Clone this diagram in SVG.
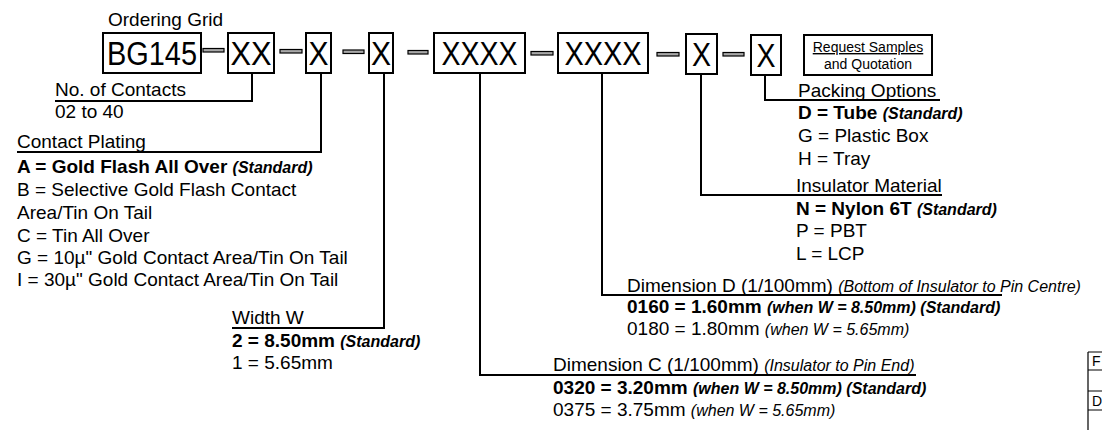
<svg xmlns="http://www.w3.org/2000/svg" width="1102" height="430" viewBox="0 0 1102 430">
<style>
text{font-family:"Liberation Sans",Arial,sans-serif;fill:#000}
.t{font-size:19px}
.b{font-size:19px;font-weight:bold}
.bi{font-size:16px;font-weight:bold;font-style:italic}
.i{font-size:16px;font-style:italic}
.big{font-size:34px;text-anchor:middle}
.box{fill:#fff;stroke:#000;stroke-width:2}
.dash{fill:#a8a8a8;stroke:#000;stroke-width:1.2}
.ln{fill:none;stroke:#000;stroke-width:2}
.rq{font-size:14px;text-anchor:middle}
</style>
<rect width="1102" height="430" fill="#fff"/>
<text class="t" x="108" y="26">Ordering Grid</text>

<g id="boxes">
<g id="n-bg145"><rect class="box" x="103" y="33" width="98" height="40"/><text class="big" x="152" y="65" textLength="90" lengthAdjust="spacingAndGlyphs">BG145</text></g>
<g id="n-xx"><rect class="box" x="228" y="33" width="46" height="40"/><text class="big" x="251" y="65" textLength="41" lengthAdjust="spacingAndGlyphs">XX</text></g>
<g id="n-x1"><rect class="box" x="306" y="33" width="25" height="40"/><text class="big" x="318.5" y="65" textLength="20" lengthAdjust="spacingAndGlyphs">X</text></g>
<g id="n-x2"><rect class="box" x="369" y="33" width="24" height="40"/><text class="big" x="381" y="65" textLength="20" lengthAdjust="spacingAndGlyphs">X</text></g>
<g id="n-xxxx1"><rect class="box" x="434" y="33" width="91" height="40"/><text class="big" x="479.5" y="65" textLength="76" lengthAdjust="spacingAndGlyphs">XXXX</text></g>
<g id="n-xxxx2"><rect class="box" x="558" y="33" width="90" height="40"/><text class="big" x="603" y="65" textLength="77" lengthAdjust="spacingAndGlyphs">XXXX</text></g>
<g id="n-x3"><rect class="box" x="686" y="34" width="31" height="40"/><text class="big" x="701.5" y="66" textLength="19" lengthAdjust="spacingAndGlyphs">X</text></g>
<g id="n-x4"><rect class="box" x="751" y="35" width="30" height="40"/><text class="big" x="766" y="67" textLength="19" lengthAdjust="spacingAndGlyphs">X</text></g>
</g>

<g id="dashes">
<rect class="dash" x="203" y="48.5" width="21" height="3.5"/>
<rect class="dash" x="280" y="49.5" width="22" height="3.5"/>
<rect class="dash" x="343" y="50" width="21" height="3.5"/>
<rect class="dash" x="408" y="50.5" width="20" height="3.5"/>
<rect class="dash" x="531" y="51.5" width="22" height="3.5"/>
<rect class="dash" x="657" y="52.5" width="22" height="3.5"/>
<rect class="dash" x="723" y="52.5" width="21" height="3.5"/>
</g>

<g id="n-request">
<rect class="box" x="804" y="35" width="128" height="40"/>
<text class="rq" x="868" y="52" text-decoration="underline">Request Samples</text>
<text class="rq" x="868" y="69">and Quotation</text>
</g>

<g id="connectors">
<path class="ln" d="M252 73V101H55"/>
<path class="ln" d="M321 73V152H17"/>
<path class="ln" d="M384 73V328H232"/>
<path class="ln" d="M480 73V375H916"/>
<path class="ln" d="M602 73V295H1002"/>
<path class="ln" d="M701 74V195H942"/>
<path class="ln" d="M765 75V100H940"/>
</g>

<g id="n-contacts">
<text class="t" x="55" y="96">No. of Contacts</text>
<text class="t" x="55" y="118">02 to 40</text>
</g>

<g id="n-plating">
<text class="t" x="17" y="148">Contact Plating</text>
<text x="17" y="173"><tspan class="b">A = Gold Flash All Over </tspan><tspan class="bi">(Standard)</tspan></text>
<text class="t" x="17" y="196">B = Selective Gold Flash Contact</text>
<text class="t" x="17" y="219">Area/Tin On Tail</text>
<text class="t" x="17" y="242">C = Tin All Over</text>
<text class="t" x="17" y="264">G = 10µ" Gold Contact Area/Tin On Tail</text>
<text class="t" x="17" y="286">I = 30µ" Gold Contact Area/Tin On Tail</text>
</g>

<g id="n-width">
<text class="t" x="232" y="324">Width W</text>
<text x="232" y="347"><tspan class="b">2 = 8.50mm </tspan><tspan class="bi">(Standard)</tspan></text>
<text class="t" x="232" y="369">1 = 5.65mm</text>
</g>

<g id="n-dimc">
<text x="553" y="371"><tspan class="t">Dimension C (1/100mm) </tspan><tspan class="i">(Insulator to Pin End)</tspan></text>
<text x="553" y="394"><tspan class="b">0320 = 3.20mm </tspan><tspan class="bi">(when W = 8.50mm) (Standard)</tspan></text>
<text x="553" y="416"><tspan class="t">0375 = 3.75mm </tspan><tspan class="i">(when W = 5.65mm)</tspan></text>
</g>

<g id="n-dimd">
<text x="627" y="292"><tspan class="t">Dimension D (1/100mm) </tspan><tspan class="i">(Bottom of Insulator to Pin Centre)</tspan></text>
<text x="627" y="313"><tspan class="b">0160 = 1.60mm </tspan><tspan class="bi">(when W = 8.50mm) (Standard)</tspan></text>
<text x="627" y="335"><tspan class="t">0180 = 1.80mm </tspan><tspan class="i">(when W = 5.65mm)</tspan></text>
</g>

<g id="n-insulator">
<text class="t" x="796" y="192">Insulator Material</text>
<text x="796" y="215"><tspan class="b">N = Nylon 6T </tspan><tspan class="bi">(Standard)</tspan></text>
<text class="t" x="796" y="237">P = PBT</text>
<text class="t" x="796" y="260">L = LCP</text>
</g>

<g id="n-packing">
<text class="t" x="798" y="97">Packing Options</text>
<text x="798" y="119"><tspan class="b">D = Tube </tspan><tspan class="bi">(Standard)</tspan></text>
<text class="t" x="798" y="142">G = Plastic Box</text>
<text class="t" x="798" y="165">H = Tray</text>
</g>

<g id="edge-table">
<path d="M1088 352V430M1088 352H1102M1088 370H1102M1088 391H1102M1088 410H1102" fill="none" stroke="#000" stroke-width="1.2"/>
<text x="1092" y="366" style="font-size:14px">F</text>
<text x="1092" y="406" style="font-size:14px">D</text>
</g>
</svg>
